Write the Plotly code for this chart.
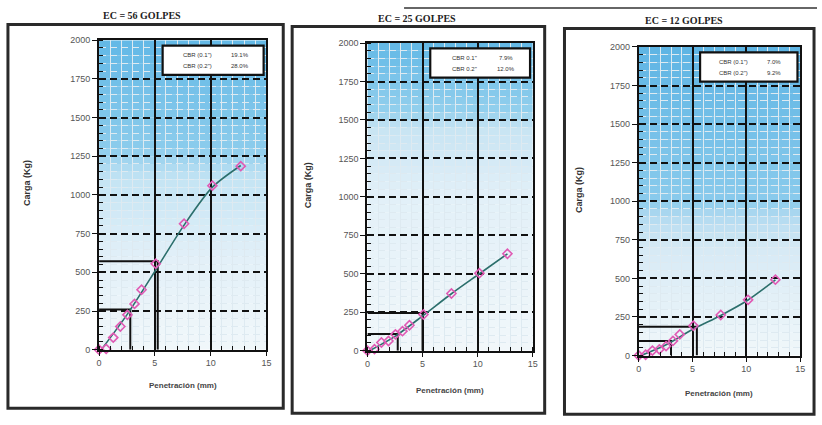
import plotly.graph_objects as go

# Penetration readings (mm) shared by the three specimens
penetracion = [0, 0.64, 1.27, 1.91, 2.54, 3.18, 3.81, 5.08, 7.62, 10.16, 12.70]

# Measured loads (kg) per compaction energy
carga_56 = [0, 5, 78, 150, 225, 296, 387, 555, 814, 1060, 1186]
carga_25 = [0, 10, 53, 63, 106, 127, 165, 235, 372, 504, 630]
carga_12 = [0, 5, 32, 40, 61, 95, 137, 193, 263, 361, 492]

# Fitted (corrected) curves
pen_ajuste = [0.2, 2.54, 5.08, 7.62, 10.16, 12.70]
ajuste_56 = [0, 230, 515, 805, 1050, 1190]
ajuste_25 = [0, 95, 230, 370, 500, 630]
ajuste_12 = [0, 70, 172, 260, 360, 490]

# Corrected loads read at 0.1" and 0.2"
pen_01 = [2.80, 2.75, 3.00]
carga_01 = [260, 108, 95]
pen_02 = [5.26, 5.00, 5.40]
carga_02 = [572, 245, 187]

titulos = ["EC = 56 GOLPES", "EC = 25 GOLPES", "EC = 12 GOLPES"]
cbr_etiquetas = [['CBR (0.1")', 'CBR (0.2")'], ['CBR 0.1"', 'CBR 0.2"'], ['CBR (0.1")', 'CBR (0.2")']]
cbr_valores = [["19.1%", "28.0%"], ["7.9%", "12.0%"], ["7.0%", "9.2%"]]

W, H = 822, 425

# plot areas in pixels: (left, right, top, bottom)
areas = [(97, 266, 36, 353), (368, 535, 39, 354), (642, 805, 43, 359)]
marcos = [(5, 283, 20, 413), (292, 547, 22, 418), (567, 819, 24, 419)]
titulo_pos = [(140, 11), (418, 14), (688, 16)]
ytitulo_x = [24, 308, 581]
xtitulo_y = [390, 395, 398]

# background shading stops (kg, rgb)
degradados = [
    [(0, (241, 247, 250)), (600, (226, 240, 248)), (1100, (196, 228, 244)), (1300, (140, 204, 236)), (2000, (98, 184, 230))],
    [(0, (241, 247, 250)), (1000, (226, 240, 248)), (1450, (200, 228, 243)), (1550, (148, 208, 237)), (2000, (98, 184, 230))],
    [(0, (241, 247, 250)), (700, (214, 234, 245)), (900, (178, 218, 240)), (1000, (138, 203, 236)), (2000, (94, 180, 228))],
]


def color_en(stops, v):
    for (a, ca), (b, cb) in zip(stops[:-1], stops[1:]):
        if a <= v <= b:
            t = (v - a) / (b - a)
            c = [round(ca[i] + (cb[i] - ca[i]) * t) for i in range(3)]
            return f"rgb({c[0]},{c[1]},{c[2]})"
    c = stops[-1][1]
    return f"rgb({c[0]},{c[1]},{c[2]})"


fig = go.Figure()
cargas = [carga_56, carga_25, carga_12]
ajustes = [ajuste_56, ajuste_25, ajuste_12]
shapes = []
annotations = []
layout_axes = {}

for i in range(3):
    xa = "x" if i == 0 else f"x{i + 1}"
    ya = "y" if i == 0 else f"y{i + 1}"
    l, r, t, b = areas[i]

    # shading bands
    for k in range(40):
        y0 = k * 50
        shapes.append(dict(type="rect", xref=xa, yref=ya, x0=0, x1=15, y0=y0, y1=y0 + 50,
                           fillcolor=color_en(degradados[i], y0 + 25), line=dict(width=0),
                           layer="below"))

    # 0.1" and 0.2" reference lines
    for px, py in ((pen_01[i], carga_01[i]), (pen_02[i], carga_02[i])):
        fig.add_trace(go.Scatter(x=[0, px, px], y=[py, py, 0], xaxis=xa, yaxis=ya,
                                 mode="lines", line=dict(color="#111", width=2),
                                 showlegend=False, hoverinfo="skip"))

    fig.add_trace(go.Scatter(x=pen_ajuste, y=ajustes[i], xaxis=xa, yaxis=ya, mode="lines",
                             line=dict(color="#2c6f6c", width=1.6, shape="spline", smoothing=0.8),
                             showlegend=False, cliponaxis=False))
    fig.add_trace(go.Scatter(x=penetracion, y=cargas[i], xaxis=xa, yaxis=ya, mode="markers",
                             marker=dict(symbol="diamond-open", size=7, color="#e05ab4",
                                         line=dict(width=1.6, color="#e05ab4")),
                             showlegend=False, cliponaxis=False))

    # CBR box
    shapes.append(dict(type="rect", xref=xa, yref=ya, x0=5.7, x1=14.75, y0=1775, y1=1965,
                       fillcolor="white", line=dict(color="#111", width=2.2), layer="above"))
    for j, yv in enumerate((1905, 1830)):
        annotations.append(dict(xref=xa, yref=ya, x=8.8, y=yv, text=cbr_etiquetas[i][j],
                                xanchor="center", yanchor="middle", showarrow=False,
                                font=dict(family="Liberation Sans", size=6, color="#333")))
        annotations.append(dict(xref=xa, yref=ya, x=12.6, y=yv, text=cbr_valores[i][j],
                                xanchor="center", yanchor="middle", showarrow=False,
                                font=dict(family="Liberation Sans", size=6, color="#333")))

    # panel frame
    fl, fr, ft, fb = marcos[i]
    shapes.append(dict(type="rect", xref="paper", yref="paper", x0=fl / W, x1=fr / W,
                       y0=1 - fb / H, y1=1 - ft / H, line=dict(color="#2a2a2a", width=3)))

    tx, ty = titulo_pos[i]
    annotations.append(dict(xref="paper", yref="paper", x=tx / W, y=1 - ty / H, text=f"<b>{titulos[i]}</b>",
                            xanchor="center", yanchor="middle", showarrow=False,
                            font=dict(family="Liberation Serif", size=10, color="#222")))
    annotations.append(dict(xref="paper", yref="paper", x=ytitulo_x[i] / W, y=1 - ((t + b) / 2 - 12) / H,
                            text="<b>Carga (Kg)</b>", textangle=-90, xanchor="center", yanchor="middle",
                            showarrow=False, font=dict(family="Liberation Sans", size=9, color="#333")))
    annotations.append(dict(xref="paper", yref="paper", x=(l + r) / 2 / W, y=1 - xtitulo_y[i] / H,
                            text="<b>Penetración (mm)</b>", xanchor="center", yanchor="middle",
                            showarrow=False, font=dict(family="Liberation Sans", size=8, color="#444")))

    xkey = "xaxis" if i == 0 else f"xaxis{i + 1}"
    ykey = "yaxis" if i == 0 else f"yaxis{i + 1}"
    layout_axes[xkey] = dict(
        domain=[l / W, r / W], anchor=ya, range=[0, 15], tickvals=[0, 5, 10, 15],
        showgrid=True, gridcolor="#111", gridwidth=1.6,
        showline=True, linecolor="#111", linewidth=2, mirror=True,
        ticks="outside", ticklen=4, tickcolor="#111", zeroline=False,
        tickfont=dict(family="Liberation Sans", size=9, color="#555"),
        minor=dict(dtick=1, showgrid=True, gridcolor="rgb(222,234,241)", gridwidth=1.4,
                   ticks="inside", ticklen=4, tickcolor="#111"),
        fixedrange=True,
    )
    layout_axes[ykey] = dict(
        domain=[1 - b / H, 1 - t / H], anchor=xa, range=[0, 2000], dtick=250,
        showgrid=True, gridcolor="#111", gridwidth=2, griddash="7px,4px",
        showline=True, linecolor="#111", linewidth=2, mirror=True,
        ticks="outside", ticklen=5, tickcolor="#111", zeroline=False,
        tickfont=dict(family="Liberation Sans", size=9, color="#555"),
        minor=dict(dtick=50, showgrid=True, gridcolor="rgb(222,234,241)", gridwidth=1.4,
                   ticks="inside", ticklen=4, tickcolor="#111"),
        fixedrange=True,
    )

# outer table edge along the top
shapes.append(dict(type="line", xref="paper", yref="paper", x0=405 / W, x1=1, y0=1 - 3 / H, y1=1 - 3 / H,
                   line=dict(color="#333", width=1.5)))

fig.update_layout(
    width=W, height=H, margin=dict(l=0, r=0, t=0, b=0),
    paper_bgcolor="white", plot_bgcolor="white",
    shapes=shapes, annotations=annotations, showlegend=False,
    **layout_axes,
)

fig.write_html("out.html")
